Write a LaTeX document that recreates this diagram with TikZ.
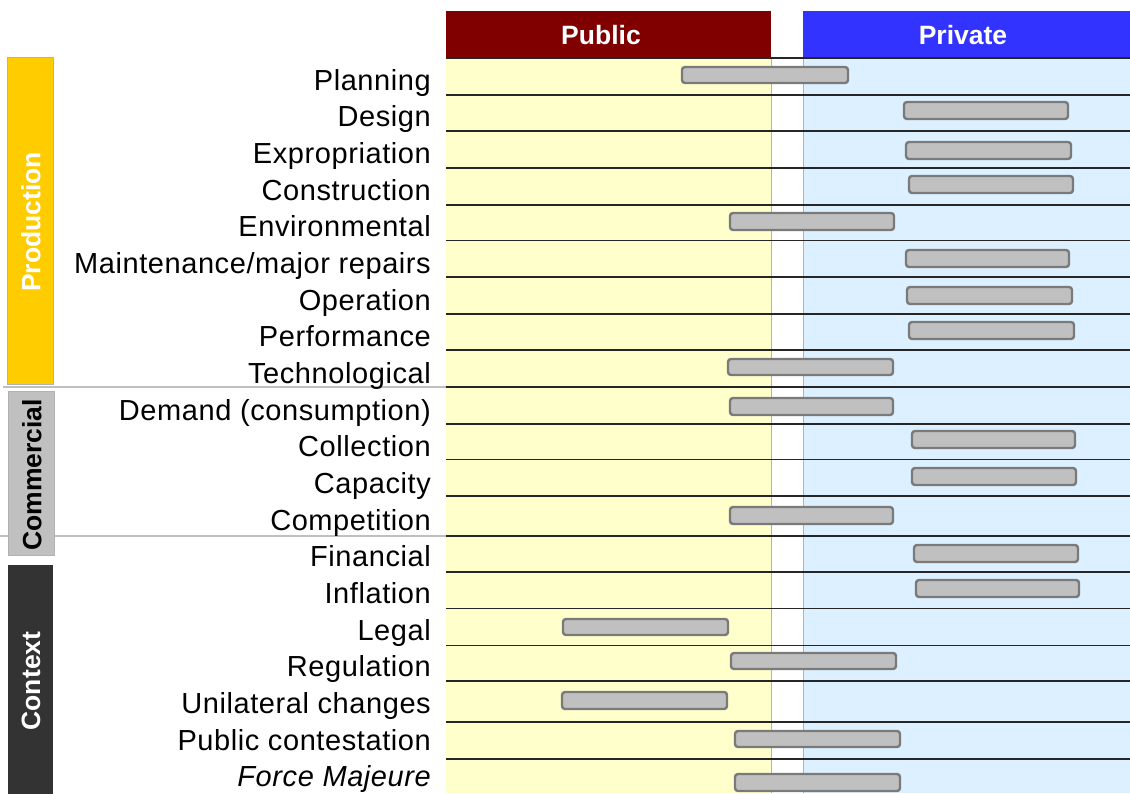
\documentclass[tikz,border=0pt]{standalone}
\usepackage{fontspec}
\setmainfont{Liberation Sans}
\newfontfamily\lblfont[LetterSpace=2]{Liberation Sans}
\definecolor{pubhd}{HTML}{800000}
\definecolor{privhd}{HTML}{3333FF}
\definecolor{pubbg}{HTML}{FFFFCC}
\definecolor{privbg}{HTML}{DCF0FF}
\definecolor{barfill}{HTML}{C0C0C0}
\definecolor{barline}{HTML}{7A7A7A}
\definecolor{prodc}{HTML}{FFCC00}
\definecolor{commc}{HTML}{C0C0C0}
\definecolor{contc}{HTML}{333333}
\tikzset{
  hdr/.style={anchor=north west, inner sep=0pt, minimum height=47pt, fill=none},
  hdrtext/.style={inner sep=0pt, text=white, font=\fontsize{26.5}{30}\selectfont\bfseries},
  lbl/.style={anchor=base east, inner sep=0pt, font=\lblfont\fontsize{29}{32}\selectfont},
  cat/.style={rotate=90, inner sep=0pt, font=\fontsize{26.5}{30}\selectfont\bfseries},
  catbox/.style={draw=black!30, line width=0.8pt},
  bar/.style={fill=barfill, draw=barline, line width=2.4pt, rounded corners=3pt},
  rowline/.style={draw=black!85, line width=1.6pt},
  sepline/.style={draw=black!25, line width=1.5pt},
  edge/.style={draw=black!30, line width=0.8pt}
}
\begin{document}
\begin{tikzpicture}[x=1pt,y=-1pt]
\useasboundingbox[fill=white] (0,0) rectangle (1130,793);
% backgrounds
\fill[pubbg] (446,58) rectangle (771,793);
\fill[privbg] (803,58) rectangle (1130,793);
\draw[edge] (771,58) -- (771,793);
\draw[edge] (803,58) -- (803,793);
% headers
\node[hdr, fill=pubhd, minimum width=325pt] (pub) at (446,11) {};
\node[hdr, fill=privhd, minimum width=327pt] (priv) at (803,11) {};
\node[hdrtext] (pubt) at (601,35.5) {Public};
\node[hdrtext] (privt) at (963,35.5) {Private};
% row lines
\foreach \y in {58,95,131,168,205,240.5,277,314,350,387,424,459.5,496,536,572,608.5,645.5,681,722,759}
  \draw[rowline] (446,\y) -- (1130,\y);
% left separators
\draw[sepline] (3,387) -- (446,387);
\draw[sepline] (0,536) -- (446,536);
% category boxes
\fill[prodc] (7,57) rectangle (53,384);
\draw[catbox] (7,57) rectangle (53,384);
\fill[commc] (8,391) rectangle (54,555);
\draw[catbox] (8,391) rectangle (54,555);
\fill[contc] (8,565) rectangle (53,800);
\node[cat, text=white] (prod) at (31,222) {Production};
\node[cat, text=black] (comm) at (32,475) {Commercial};
\node[cat, text=white] (cont) at (31,681) {Context};
% labels
\node[lbl] (l1)  at (431,90.0)  {Planning};
\node[lbl] (l2)  at (431,126.7) {Design};
\node[lbl] (l3)  at (431,163.3) {Expropriation};
\node[lbl] (l4)  at (431,200.0) {Construction};
\node[lbl] (l5)  at (431,236.7) {Environmental};
\node[lbl] (l6)  at (431,273.3) {Maintenance/major repairs};
\node[lbl] (l7)  at (431,310.0) {Operation};
\node[lbl] (l8)  at (431,346.7) {Performance};
\node[lbl] (l9)  at (431,383.3) {Technological};
\node[lbl] (l10) at (431,420.0) {Demand (consumption)};
\node[lbl] (l11) at (431,456.7) {Collection};
\node[lbl] (l12) at (431,493.3) {Capacity};
\node[lbl] (l13) at (431,530.0) {Competition};
\node[lbl] (l14) at (431,566.7) {Financial};
\node[lbl] (l15) at (431,603.3) {Inflation};
\node[lbl] (l16) at (431,640.0) {Legal};
\node[lbl] (l17) at (431,676.7) {Regulation};
\node[lbl] (l18) at (431,713.3) {Unilateral changes};
\node[lbl] (l19) at (431,750.0) {Public contestation};
\node[lbl] (l20) at (431,786.7) {\itshape Force Majeure};
% bars
\draw[bar] (682,67)  rectangle (848,83);
\draw[bar] (904,102) rectangle (1068,119);
\draw[bar] (906,142) rectangle (1071,159);
\draw[bar] (909,176) rectangle (1073,193);
\draw[bar] (730,213) rectangle (894,230);
\draw[bar] (906,250) rectangle (1069,267);
\draw[bar] (907,287) rectangle (1072,304);
\draw[bar] (909,322) rectangle (1074,339);
\draw[bar] (728,359) rectangle (893,375);
\draw[bar] (730,398) rectangle (893,415);
\draw[bar] (912,431) rectangle (1075,448);
\draw[bar] (912,468) rectangle (1076,485);
\draw[bar] (730,507) rectangle (893,524);
\draw[bar] (914,545) rectangle (1078,562);
\draw[bar] (916,580) rectangle (1079,597);
\draw[bar] (563,619) rectangle (728,635);
\draw[bar] (731,653) rectangle (896,669);
\draw[bar] (562,692) rectangle (727,709);
\draw[bar] (735,731) rectangle (900,747);
\draw[bar] (735,774) rectangle (900,791);
\end{tikzpicture}
\end{document}
